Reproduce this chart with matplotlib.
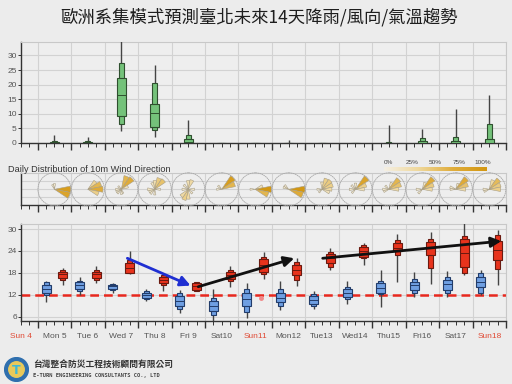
import numpy as np
import matplotlib
matplotlib.use("Agg")
import matplotlib.pyplot as plt
from matplotlib.colors import LinearSegmentedColormap
from matplotlib.patches import Circle

# ---------------- data ----------------
day_labels = ["Sun 4", "Mon 5", "Tue 6", "Wed 7", "Thu 8", "Fri 9", "Sat10", "Sun11",
              "Mon12", "Tue13", "Wed14", "Thu15", "Fri16", "Sat17", "Sun18"]
red_labels = ["Sun 4", "Sun11", "Sun18"]

# rain (mm) ensemble stats for Mon5..Sun18
rain_min = [0, 0, 4.1, 2.1, 0, 0, 0, 0, 0, 0, 0, 0, 0, 0]
rain_p10 = [0, 0, 6.4, 4.4, 0, 0, 0, 0, 0, 0, 0, 0, 0, 0]
rain_p25 = [0, 0, 9.3, 5.5, 0, 0, 0, 0, 0, 0, 0, 0, 0, 0]
rain_med = [0, 0, 16.4, 10.3, 0.3, 0, 0, 0, 0, 0, 0, 0, 0, 0]
rain_p75 = [0.3, 0.2, 22.1, 13.3, 1.5, 0, 0, 0, 0, 0, 0, 0.6, 0.6, 1.5]
rain_p90 = [0.8, 0.6, 27.5, 20.4, 2.9, 0, 0, 0, 0, 0, 0.2, 1.7, 2.1, 6.4]
rain_max = [2.9, 2.1, 36.0, 26.7, 8.0, 0, 0, 1.1, 0, 0, 6.1, 4.9, 11.5, 16.6]

# min temperature stats
tmin_min = [9.9, 11.9, 12.6, 10.3, 6.9, 4.8, 5.5, 7.8, 8.1, 9.4, 8.7, 11.3, 11.3, 11.9]
tmin_p10 = [11.9, 13.1, 13.2, 10.8, 8.1, 6.4, 7.4, 9.0, 9.0, 10.9, 12.1, 12.5, 12.5, 12.6]
tmin_p25 = [12.4, 13.6, 13.6, 11.0, 9.0, 7.5, 9.0, 9.9, 9.4, 11.5, 12.6, 13.4, 13.4, 14.2]
tmin_med = [13.6, 14.7, 14.3, 11.9, 10.4, 9.0, 10.8, 11.2, 10.5, 12.6, 13.9, 14.6, 15.0, 15.6]
tmin_p75 = [14.8, 15.6, 14.8, 12.6, 11.6, 10.3, 12.4, 12.4, 11.7, 13.7, 15.1, 15.6, 16.0, 16.9]
tmin_p90 = [15.6, 15.8, 15.0, 13.0, 12.4, 11.2, 13.6, 13.7, 12.1, 14.2, 15.8, 16.2, 16.9, 17.9]
tmin_max = [15.8, 16.9, 15.3, 13.6, 13.3, 13.6, 15.1, 15.8, 13.0, 15.8, 18.8, 18.3, 18.6, 18.8]

# max temperature stats
tmax_min = [14.7, 15.1, 17.6, 13.0, 13.0, 14.2, 16.3, 14.5, 18.8, 20.1, 15.6, 14.9, 17.4, 14.7]
tmax_p10 = [16.0, 16.0, 17.9, 14.6, 13.1, 15.8, 17.6, 16.0, 19.7, 22.0, 22.9, 19.2, 17.9, 19.0]
tmax_p25 = [16.5, 16.5, 18.1, 15.1, 13.3, 16.2, 18.3, 17.4, 20.6, 22.4, 24.1, 22.9, 19.7, 21.5]
tmax_med = [17.6, 17.6, 19.4, 16.0, 14.3, 17.4, 20.1, 18.8, 22.1, 24.0, 24.8, 25.2, 23.5, 24.2]
tmax_p75 = [18.3, 18.3, 20.6, 16.9, 15.1, 18.3, 21.8, 20.1, 23.1, 25.2, 26.3, 26.5, 27.2, 26.8]
tmax_p90 = [18.8, 18.8, 21.5, 17.4, 15.4, 18.8, 22.4, 20.9, 23.8, 25.6, 27.0, 27.4, 28.1, 28.4]
tmax_max = [19.2, 20.0, 23.9, 17.9, 15.6, 19.9, 23.8, 22.0, 24.7, 26.3, 28.6, 29.3, 32.0, 29.7]

threshold_temp = 12

# trend arrows: (x0, y0, x1, y1) in day units / degC
blue_arrow = [2.68, 22.0, 4.57, 14.5]
black_arrows = [[4.8, 14.2, 7.67, 22.0], [8.52, 22.0, 13.86, 26.7]]
dot_x, dot_y = [6.68], [11.0]

# wind direction frequency (16 compass sectors, N clockwise) per day Mon5..Sun18
sectors = ["N", "NNE", "NE", "ENE", "E", "ESE", "SE", "SSE",
           "S", "SSW", "SW", "WSW", "W", "WNW", "NW", "NNW"]
wind_freq = [
    [0.05, 0, 0, 0, 0.45, 0.40, 0, 0, 0, 0, 0, 0, 0, 0, 0, 0.04],
    [0, 0, 0.18, 0.30, 0.35, 0.20, 0, 0, 0, 0, 0, 0, 0, 0, 0, 0],
    [0, 0.30, 0.35, 0.08, 0, 0, 0, 0.03, 0.04, 0, 0.05, 0.05, 0.05, 0, 0.03, 0],
    [0.12, 0.22, 0.25, 0, 0.05, 0, 0, 0, 0.05, 0, 0.06, 0.06, 0.08, 0, 0, 0.08],
    [0.12, 0.15, 0, 0, 0.06, 0, 0.05, 0, 0.15, 0.20, 0.15, 0, 0.06, 0, 0.06, 0],
    [0, 0, 0.45, 0.30, 0, 0, 0, 0, 0, 0, 0, 0, 0.04, 0, 0.04, 0],
    [0, 0, 0, 0.10, 0.50, 0.30, 0, 0, 0, 0, 0, 0, 0.04, 0, 0, 0],
    [0, 0, 0, 0, 0.55, 0.35, 0, 0, 0, 0, 0, 0, 0, 0.05, 0.05, 0],
    [0.08, 0.20, 0.22, 0.20, 0.15, 0.10, 0, 0, 0, 0, 0.03, 0, 0.04, 0, 0, 0],
    [0.06, 0, 0.40, 0.20, 0.12, 0, 0, 0, 0, 0, 0.04, 0, 0.06, 0, 0.05, 0],
    [0, 0.08, 0.30, 0.25, 0.15, 0, 0, 0, 0, 0, 0, 0.05, 0.06, 0, 0.04, 0],
    [0, 0.08, 0.35, 0.22, 0.15, 0, 0, 0, 0, 0, 0.05, 0, 0.06, 0, 0, 0],
    [0, 0.06, 0.35, 0.25, 0.15, 0, 0, 0, 0, 0, 0, 0, 0.05, 0.06, 0, 0],
    [0, 0.15, 0.28, 0.22, 0.20, 0, 0, 0, 0, 0, 0, 0.05, 0.06, 0, 0, 0],
]
cbar_ticks = ["0%", "25%", "50%", "75%", "100%"]

# ---------------- style ----------------
BG = "#ececec"
GRID = "#d2d2d2"
TICKC = "#555555"
W, H = 512, 384
fig = plt.figure(figsize=(W / 100, H / 100), dpi=100, facecolor=BG)

def fr(x0, y0, x1, y1):
    return [x0 / W, 1 - y1 / H, (x1 - x0) / W, (y1 - y0) / H]

XMIN, XMAX = -0.5, 14.0
ndays = len(rain_max)
days = np.arange(ndays)

def style_axes(ax):
    ax.set_facecolor("#eeeeee")
    ax.set_xlim(XMIN, XMAX)
    for s in ["top", "right"]:
        ax.spines[s].set_color("#c8c8c8")
        ax.spines[s].set_linewidth(0.8)
    for s in ["left", "bottom"]:
        ax.spines[s].set_color("#333333")
        ax.spines[s].set_linewidth(1.0)
    ax.set_xticks(np.arange(0, 15))
    ax.set_xticks(np.arange(-0.5, 14.01, 0.25), minor=True)
    ax.tick_params(axis="x", which="major", length=5, width=1.0, color="#333333", labelbottom=False)
    ax.tick_params(axis="x", which="minor", length=3, width=0.7, color="#333333")
    ax.tick_params(axis="y", length=2, width=0.7, color="#333333", labelsize=6, labelcolor=TICKC, pad=1)
    ax.grid(True, which="major", color=GRID, linewidth=0.8)
    ax.set_axisbelow(True)

def boxes(ax, xs, lo, p10, p25, med, p75, p90, hi, face, edge, wide=0.27, narrow=0.15):
    xs = np.asarray(xs)
    ax.vlines(xs, lo, hi, color="#444444", linewidth=1.0, zorder=3)
    ax.bar(xs, np.subtract(p90, p10), bottom=p10, width=narrow, color=face, edgecolor=edge,
           linewidth=0.8, zorder=4)
    ax.bar(xs, np.subtract(p75, p25), bottom=p25, width=wide, color=face, edgecolor=edge,
           linewidth=0.8, zorder=5)
    ax.hlines(med, xs - wide / 2, xs + wide / 2, color=edge, linewidth=0.7, zorder=6)

# ---------------- title ----------------
fig.text(259 / W, 1 - 17 / H, "歐洲系集模式預測臺北未來14天降雨/風向/氣溫趨勢",
         ha="center", va="center", fontsize=12.5, color="#1e1e1e",
         family=["Noto Sans CJK TC", "DejaVu Sans"])

# ---------------- rain panel ----------------
ax1 = fig.add_axes(fr(21, 42, 506, 143))
style_axes(ax1)
ax1.set_ylim(0, 34.6)
ax1.set_yticks([0, 5, 10, 15, 20, 25, 30])
for lab in ax1.get_yticklabels():
    lab.set_fontfamily("Liberation Sans")
boxes(ax1, days + 0.5, rain_min, rain_p10, rain_p25, rain_med, rain_p75, rain_p90, rain_max,
      "#74c27a", "#2f4f2f")

# ---------------- wind panel ----------------
ax2 = fig.add_axes(fr(21, 173.3, 506, 205))
style_axes(ax2)
ax2.set_ylim(0, 4)
ax2.set_yticks([1, 2, 3])
ax2.tick_params(axis="y", length=0, labelleft=False)
fig.text(8 / W, 1 - 169 / H, "Daily Distribution of 10m Wind Direction", ha="left",
         va="center", fontsize=6.6, color="#333333", family="Liberation Sans")

cmap = LinearSegmentedColormap.from_list("gold", ["#f4efe4", "#efd89c", "#e0ad3c", "#d39712"])
theta = np.deg2rad(np.arange(16) * 22.5)
px_per_day = (506 - 21) / (XMAX - XMIN)
for i, f in enumerate(wind_freq):
    cx = 21 + (i + 0.5 - XMIN) * px_per_day
    cy = 189.3
    r = 16.5
    pax = fig.add_axes(fr(cx - r, cy - r, cx + r, cy + r), projection="polar")
    pax.set_theta_zero_location("N")
    pax.set_theta_direction(-1)
    pax.set_facecolor("none")
    pax.set_ylim(0, 1)
    pax.set_xticks([])
    pax.set_yticks([])
    pax.grid(False)
    pax.spines["polar"].set_linestyle((0, (1, 1.5)))
    pax.spines["polar"].set_color("#a8a8a8")
    pax.spines["polar"].set_linewidth(0.6)
    f = np.asarray(f)
    radii = np.minimum(1.0, np.sqrt(f / 0.42))
    pax.bar(theta, radii, width=np.deg2rad(22.5), color=cmap(np.minimum(1, f / 0.5)),
            edgecolor="#a89f88", linewidth=0.4)

# colorbar legend
cax = fig.add_axes(fr(384, 167.3, 487, 171))
cax.imshow(np.linspace(0, 1, 256)[None, :], aspect="auto", cmap=cmap)
cax.set_axis_off()
for k, t in enumerate(cbar_ticks):
    fig.text((388 + k * 23.7) / W, 1 - 162 / H, t, ha="center", va="center", fontsize=4.6,
             color="#444444", family="Liberation Sans")

# ---------------- temperature panel ----------------
ax3 = fig.add_axes(fr(21, 224, 506, 321))
style_axes(ax3)
ax3.set_ylim(4.8, 31.4)
ax3.set_yticks([6, 12, 18, 24, 30])
for lab in ax3.get_yticklabels():
    lab.set_fontfamily("Liberation Sans")
ax3.axhline(threshold_temp, color="#e8281e", linewidth=1.8, linestyle=(0, (3.5, 2)), zorder=2)
boxes(ax3, days + 0.25, tmin_min, tmin_p10, tmin_p25, tmin_med, tmin_p75, tmin_p90, tmin_max,
      "#6f9fe2", "#223c6a")
boxes(ax3, days + 0.75, tmax_min, tmax_p10, tmax_p25, tmax_med, tmax_p75, tmax_p90, tmax_max,
      "#e8331c", "#6a1a10")
ax3.plot(dot_x, dot_y, "o", color="#f08a8a", markersize=2.5, zorder=3)

def arrow(ax, a, color):
    ax.annotate("", xy=(a[2], a[3]), xytext=(a[0], a[1]),
                arrowprops=dict(arrowstyle="-|>,head_length=0.6,head_width=0.3",
                                color=color, lw=2.0, shrinkA=0, shrinkB=0), zorder=8)

arrow(ax3, blue_arrow, "#1f2fd2")
for a in black_arrows:
    arrow(ax3, a, "#111111")

# day labels on half-day minor ticks
minor_pos = np.arange(-0.5, 14.01, 0.25)
labs = []
for p in minor_pos:
    k = p + 0.5
    if abs(k - round(k)) < 1e-6 and 0 <= int(round(k)) < len(day_labels):
        labs.append(day_labels[int(round(k))])
    else:
        labs.append("")
ax3.set_xticks(minor_pos, labs, minor=True)
ax3.tick_params(axis="x", which="minor", labelbottom=True, labelsize=6, labelcolor=TICKC, pad=6)
for t in ax3.get_xticklabels(minor=True):
    t.set_fontfamily("Liberation Sans")
    if t.get_text() in red_labels:
        t.set_color("#e04a35")

# ---------------- logo / footer ----------------
lax = fig.add_axes(fr(4, 357, 29, 382))
lax.set_xlim(-1, 1)
lax.set_ylim(-1, 1)
lax.set_aspect("equal")
lax.set_axis_off()
lax.add_patch(Circle((0, 0), 0.95, color="#2f6fae"))
lax.add_patch(Circle((0, 0), 0.62, color="#e8c95a"))
lax.text(0, -0.05, "T", ha="center", va="center", fontsize=9, color="#3cb8d8",
         fontweight="bold", family="DejaVu Sans")
fig.text(33 / W, 1 - 365 / H, "台灣整合防災工程技術顧問有限公司", ha="left", va="center",
         fontsize=6.3, color="#333333", fontweight="bold",
         family=["Noto Sans CJK TC", "DejaVu Sans"])
fig.text(33 / W, 1 - 375 / H, "E-TURN ENGINEERING CONSULTANTS CO., LTD", ha="left", va="center",
         fontsize=3.9, color="#444444", fontweight="bold", family="DejaVu Sans Mono")

fig.savefig("out.png", dpi=100, facecolor=BG)
